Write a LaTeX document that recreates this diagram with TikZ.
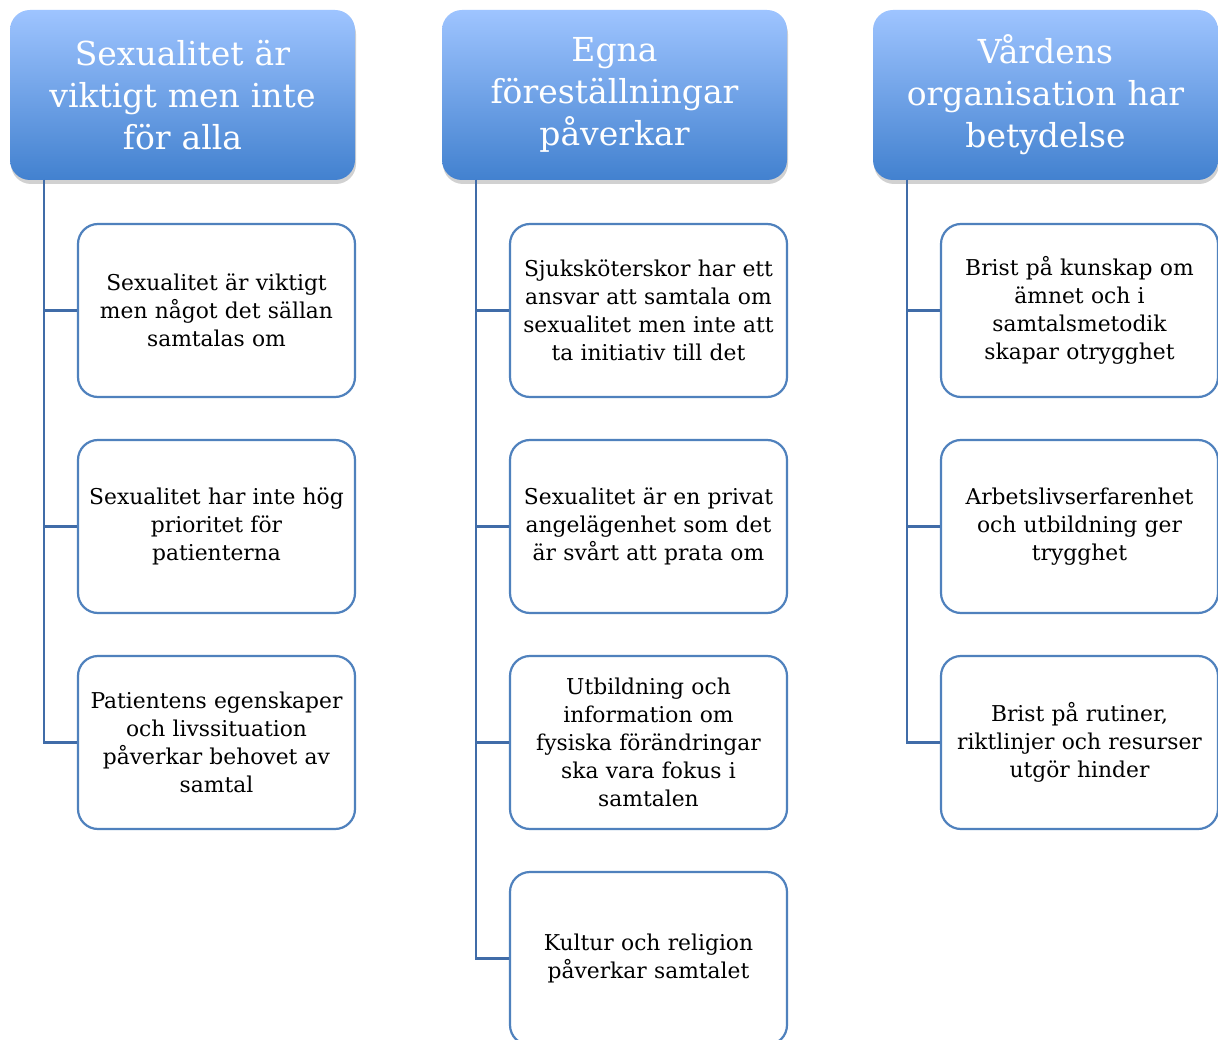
\documentclass[tikz,border=0pt]{standalone}
\usepackage{fontspec}
\setmainfont{DejaVu Serif}
\usetikzlibrary{shadows}
\definecolor{hdtop}{RGB}{158,196,255}
\definecolor{hdbot}{RGB}{66,129,207}
\definecolor{bordc}{RGB}{79,129,189}
\definecolor{connc}{RGB}{64,108,168}
\tikzset{
  header/.style={rounded corners=20pt, top color=hdtop, bottom color=hdbot,
    minimum width=345pt, minimum height=170pt, text width=335pt, align=center,
    text=white, inner sep=0pt, font=\fontsize{33}{42}\selectfont,
    drop shadow={shadow xshift=1pt, shadow yshift=-4pt, opacity=0.18, fill=black}},
  child/.style={rounded corners=20pt, draw=bordc, line width=2.2pt, fill=white,
    minimum width=277pt, minimum height=173pt, text width=270pt, align=center,
    inner sep=0pt, font=\fontsize{21.8}{28}\selectfont},
  conn/.style={draw=connc, line width=2.2pt}
}
\begin{document}
\begin{tikzpicture}[x=1pt,y=-1pt]
\useasboundingbox (0,0) rectangle (1218,1040);
\clip (0,0) rectangle (1218,1040);
\fill[white] (0,0) rectangle (1218,1040);
% headers
\node[header] (h1) at (182.5,95) {Sexualitet är\\viktigt men inte\\för alla};
\node[header] (h2) at (614.5,95) {Egna\\föreställningar\\påverkar};
\node[header] (h3) at (1045.5,95) {Vårdens\\organisation har\\betydelse};
% connectors
\coordinate (v1) at (44,180);
\coordinate (v2) at (476,180);
\coordinate (v3) at (907,180);
% column 1
\node[child] (a1) at (216.5,310.5) {Sexualitet är viktigt\\men något det sällan\\samtalas om};
\node[child] (a2) at (216.5,526.5) {Sexualitet har inte hög\\prioritet för\\patienterna};
\node[child] (a3) at (216.5,742.5) {Patientens egenskaper\\och livssituation\\påverkar behovet av\\samtal};
% column 2
\node[child] (b1) at (648.5,310.5) {Sjuksköterskor har ett\\ansvar att samtala om\\sexualitet men inte att\\ta initiativ till det};
\node[child] (b2) at (648.5,526.5) {Sexualitet är en privat\\angelägenhet som det\\är svårt att prata om};
\node[child] (b3) at (648.5,742.5) {Utbildning och\\information om\\fysiska förändringar\\ska vara fokus i\\samtalen};
\node[child] (b4) at (648.5,958.5) {Kultur och religion\\påverkar samtalet};
% column 3
\node[child] (c1) at (1079.5,310.5) {Brist på kunskap om\\ämnet och i\\samtalsmetodik\\skapar otrygghet};
\node[child] (c2) at (1079.5,526.5) {Arbetslivserfarenhet\\och utbildning ger\\trygghet};
\node[child] (c3) at (1079.5,742.5) {Brist på rutiner,\\riktlinjer och resurser\\utgör hinder};
\foreach \n in {a1,a2,a3} \draw[conn] (v1) |- (\n.west);
\foreach \n in {b1,b2,b3,b4} \draw[conn] (v2) |- (\n.west);
\foreach \n in {c1,c2,c3} \draw[conn] (v3) |- (\n.west);
\end{tikzpicture}
\end{document}
